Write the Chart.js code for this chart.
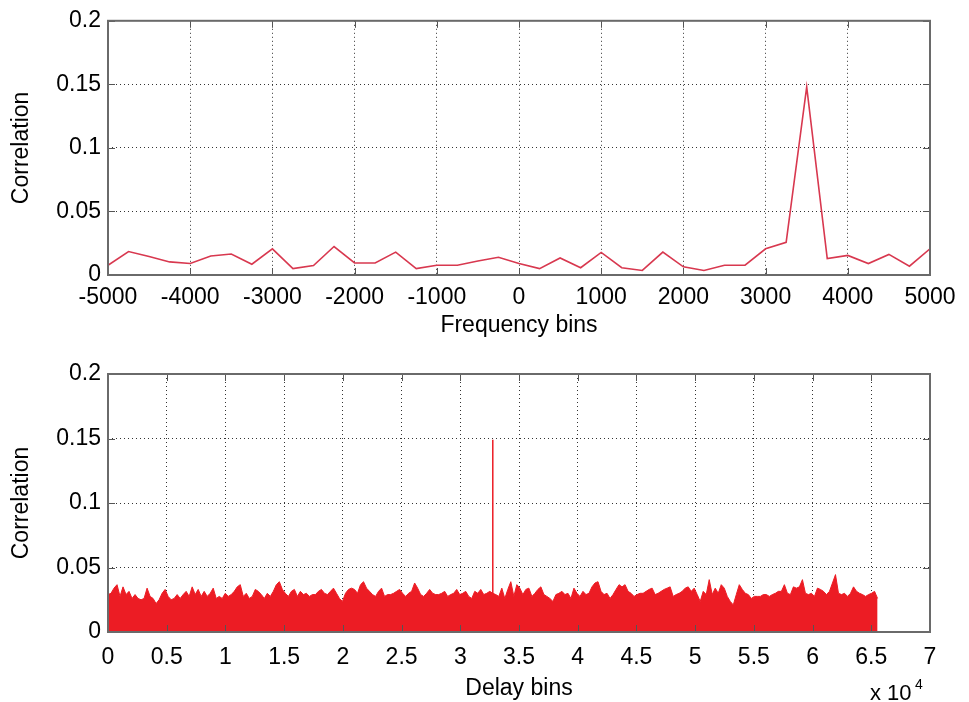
<!DOCTYPE html>
<html>
<head>
<meta charset="utf-8">
<script src="https://cdn.jsdelivr.net/npm/chart.js@4.4.1/dist/chart.umd.min.js"></script>
<style>
  body { margin: 0; background: #fff; }
  #wrap { position: relative; width: 969px; height: 702px; }
  canvas { position: absolute; left: 0; }
</style>
</head>
<body>
<div id="wrap">
  <canvas id="freqChart" width="969" height="351" style="top:0"></canvas>
  <canvas id="delayChart" width="969" height="351" style="top:351px"></canvas>
</div>
<script>
// data
const freqBins = [-5000, -4750, -4500, -4250, -4000, -3750, -3500, -3250, -3000, -2750,
  -2500, -2250, -2000, -1750, -1500, -1250, -1000, -750, -500, -250,
  0, 250, 500, 750, 1000, 1250, 1500, 1750, 2000, 2250,
  2500, 2750, 3000, 3250, 3500, 3750, 4000, 4250, 4500, 4750, 5000];
const freqCorr = [0.0077, 0.0185, 0.0145, 0.0103, 0.0090, 0.0150, 0.0165, 0.0085, 0.0206, 0.0050,
  0.0075, 0.0224, 0.0095, 0.0095, 0.0180, 0.0050, 0.0077, 0.0077, 0.0110, 0.0140,
  0.0090, 0.0050, 0.0134, 0.0057, 0.0178, 0.0057, 0.0036, 0.0180, 0.0064, 0.0036,
  0.0077, 0.0077, 0.0206, 0.0257, 0.1480, 0.0129, 0.0154, 0.0090, 0.0162, 0.0069, 0.0206];

// delay correlation: upper envelope of the noise, one reading every 256 bins (0 .. 65536)
const delayStep = 256;
const delayCorr = [
  0.029, 0.030, 0.034, 0.0367, 0.0276, 0.035, 0.029, 0.0315, 0.026, 0.029,
  0.026, 0.025, 0.026, 0.034, 0.0276, 0.026, 0.022, 0.025, 0.030, 0.033,
  0.0276, 0.025, 0.026, 0.029, 0.026, 0.029, 0.0315, 0.0276, 0.035, 0.029,
  0.033, 0.0276, 0.0315, 0.0276, 0.030, 0.034, 0.026, 0.0276, 0.026, 0.030,
  0.0276, 0.029, 0.0315, 0.035, 0.0367, 0.0276, 0.030, 0.026, 0.0276, 0.033,
  0.0315, 0.029, 0.026, 0.030, 0.0276, 0.0315, 0.0367, 0.039, 0.033, 0.030,
  0.0276, 0.0315, 0.033, 0.0276, 0.0315, 0.029,
  0.030, 0.0276, 0.029, 0.029, 0.0315, 0.033, 0.030, 0.029, 0.0315, 0.034,
  0.030, 0.026, 0.0237, 0.030, 0.033, 0.034, 0.033, 0.030, 0.0367, 0.039,
  0.034, 0.0315, 0.029, 0.0276, 0.0315, 0.034, 0.0276, 0.029, 0.029, 0.030,
  0.0315, 0.033, 0.030, 0.0276, 0.030, 0.0315, 0.038, 0.034, 0.029, 0.0276,
  0.030, 0.033, 0.030, 0.029, 0.029, 0.030, 0.0315, 0.0276, 0.029, 0.030,
  0.033, 0.029, 0.030, 0.0315, 0.0276, 0.026, 0.0315, 0.030, 0.033, 0.029,
  0.030, 0.0315, 0.030, 0.029, 0.0276,
  0.034, 0.026, 0.033, 0.039, 0.0276, 0.0367, 0.034, 0.029, 0.033, 0.034,
  0.0276, 0.030, 0.033, 0.035, 0.029, 0.0276, 0.026, 0.0237, 0.029, 0.030,
  0.0315, 0.029, 0.030, 0.026, 0.034, 0.030, 0.0276, 0.0315, 0.029, 0.030,
  0.035, 0.038, 0.039, 0.0315, 0.029, 0.030, 0.026, 0.029, 0.033, 0.0367,
  0.035, 0.0367, 0.0315, 0.030, 0.0276, 0.029, 0.030, 0.030, 0.0315, 0.033,
  0.034, 0.029, 0.030, 0.0315, 0.033, 0.034, 0.035, 0.0276, 0.029, 0.030,
  0.0315, 0.034, 0.035, 0.0315, 0.034,
  0.029, 0.0237, 0.0315, 0.029, 0.0406, 0.029, 0.034, 0.030, 0.0367, 0.034,
  0.0276, 0.0237, 0.021, 0.029, 0.0367, 0.033, 0.030, 0.029, 0.026, 0.0276,
  0.0276, 0.0276, 0.029, 0.029, 0.0276, 0.029, 0.030, 0.0315, 0.0315, 0.0367,
  0.030, 0.029, 0.035, 0.034, 0.035, 0.0406, 0.030, 0.029, 0.030, 0.0276,
  0.034, 0.033, 0.0315, 0.029, 0.0315, 0.038, 0.0445, 0.030, 0.029, 0.030,
  0.0276, 0.030, 0.035, 0.0315, 0.030, 0.029, 0.0276, 0.029, 0.030, 0.0315,
  0.026
];
const peakDelay = 32768;   // the single correlation peak
const peakCorr = 0.149;

const freqTicks = [-5000, -4000, -3000, -2000, -1000, 0, 1000, 2000, 3000, 4000, 5000];
const freqTickLabels = ['-5000', '-4000', '-3000', '-2000', '-1000', '0', '1000', '2000', '3000', '4000', '5000'];
const delayTicks = [0, 5000, 10000, 15000, 20000, 25000, 30000, 35000, 40000, 45000, 50000, 55000, 60000, 65000, 70000];
const delayTickLabels = ['0', '0.5', '1', '1.5', '2', '2.5', '3', '3.5', '4', '4.5', '5', '5.5', '6', '6.5', '7'];
const corrTicks = [0, 0.05, 0.1, 0.15, 0.2];
const corrTickLabels = ['0', '0.05', '0.1', '0.15', '0.2'];

const FONT = { family: "'Liberation Sans', Arial, sans-serif", size: 23 };

// box round the plot and the short inward tick marks, matlab style
const matlabBox = {
  id: 'matlabBox',
  afterDraw(chart) {
    const { ctx, chartArea: a, scales } = chart;
    ctx.save();
    ctx.strokeStyle = '#555';
    ctx.lineWidth = 1;
    ctx.beginPath();
    scales.x.ticks.forEach(t => {
      const px = Math.round(scales.x.getPixelForValue(t.value)) + 0.5;
      ctx.moveTo(px, a.bottom); ctx.lineTo(px, a.bottom - 7);
      ctx.moveTo(px, a.top); ctx.lineTo(px, a.top + 7);
    });
    scales.y.ticks.forEach(t => {
      const py = Math.round(scales.y.getPixelForValue(t.value)) + 0.5;
      ctx.moveTo(a.left, py); ctx.lineTo(a.left + 7, py);
      ctx.moveTo(a.right, py); ctx.lineTo(a.right - 7, py);
    });
    ctx.stroke();
    ctx.lineWidth = 2;
    ctx.strokeStyle = '#6a6a6a';
    ctx.strokeRect(a.left, a.top, a.right - a.left, a.bottom - a.top);
    ctx.restore();
  }
};

function yAxis() {
  return {
    type: 'linear', min: 0, max: 0.2,
    afterBuildTicks: s => { s.ticks = corrTicks.map(v => ({ value: v })); },
    afterFit: s => { s.width = 108; },
    ticks: { color: '#000', font: FONT, padding: 7, callback: (v, i) => corrTickLabels[i] },
    grid: { color: '#333', lineWidth: 1, drawTicks: false },
    border: { display: false, dash: [1, 3] },
    title: { display: true, text: 'Correlation', color: '#000', font: FONT, padding: { top: 8, bottom: 0 } }
  };
}

new Chart(document.getElementById('freqChart'), {
  type: 'line',
  data: {
    datasets: [{
      data: freqBins.map((b, i) => ({ x: b, y: freqCorr[i] })),
      borderColor: '#d8384f',
      borderWidth: 1.6,
      pointRadius: 0,
      tension: 0,
      fill: false
    }]
  },
  options: {
    responsive: false,
    animation: false,
    layout: { padding: { top: 16, right: 39, left: 0, bottom: 0 } },
    plugins: { legend: { display: false }, tooltip: { enabled: false } },
    scales: {
      x: {
        type: 'linear', min: -5000, max: 5000,
        afterBuildTicks: s => { s.ticks = freqTicks.map(v => ({ value: v })); },
        afterFit: s => { s.height = 76; },
        ticks: { color: '#000', font: FONT, padding: 9, maxRotation: 0, autoSkip: false,
                 callback: (v, i) => freqTickLabels[i] },
        grid: { color: '#333', lineWidth: 1, drawTicks: false },
        border: { display: false, dash: [1, 3] },
        title: { display: true, text: 'Frequency bins', color: '#000', font: FONT, padding: { top: 0, bottom: 12 } }
      },
      y: yAxis()
    }
  },
  plugins: [matlabBox]
});

// "x 10^4" exponent under the delay axis
const expLabel = {
  id: 'expLabel',
  afterDraw(chart) {
    const { ctx, chartArea: a } = chart;
    ctx.save();
    ctx.fillStyle = '#000';
    ctx.textBaseline = 'alphabetic';
    ctx.font = "22px 'Liberation Sans', Arial, sans-serif";
    ctx.fillText('x 10', a.right - 60, a.bottom + 68);
    ctx.font = "14px 'Liberation Sans', Arial, sans-serif";
    ctx.fillText('4', a.right - 15, a.bottom + 57);
    ctx.restore();
  }
};

new Chart(document.getElementById('delayChart'), {
  type: 'line',
  data: {
    datasets: [{
      data: delayCorr.map((c, i) => ({ x: i * delayStep, y: c })),
      borderColor: '#ec1c24',
      backgroundColor: '#ec1c24',
      borderWidth: 1,
      pointRadius: 0,
      tension: 0,
      fill: 'origin'
    }, {
      data: [{ x: peakDelay, y: 0 }, { x: peakDelay, y: peakCorr }],
      borderColor: '#ec1c24',
      borderWidth: 1.5,
      pointRadius: 0,
      fill: false
    }]
  },
  options: {
    responsive: false,
    animation: false,
    layout: { padding: { top: 23, right: 39, left: 0, bottom: 0 } },
    plugins: { legend: { display: false }, tooltip: { enabled: false } },
    scales: {
      x: {
        type: 'linear', min: 0, max: 70000,
        afterBuildTicks: s => { s.ticks = delayTicks.map(v => ({ value: v })); },
        afterFit: s => { s.height = 70; },
        ticks: { color: '#000', font: FONT, padding: 12, maxRotation: 0, autoSkip: false,
                 callback: (v, i) => delayTickLabels[i] },
        grid: { color: '#333', lineWidth: 1, drawTicks: false },
        border: { display: false, dash: [1, 3] },
        title: { display: true, text: 'Delay bins', color: '#000', font: FONT, padding: { top: 0, bottom: 0 } }
      },
      y: yAxis()
    }
  },
  plugins: [matlabBox, expLabel]
});
</script>
</body>
</html>
